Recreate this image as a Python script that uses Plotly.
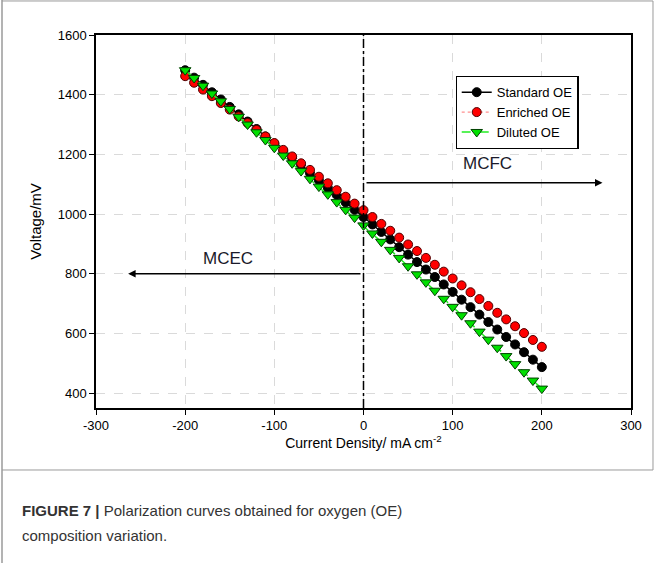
import plotly.graph_objects as go

current = [-200, -190, -180, -170, -160, -150, -140, -130, -120, -110, -100,
           -90, -80, -70, -60, -50, -40, -30, -20, -10, 0,
           10, 20, 30, 40, 50, 60, 70, 80, 90, 100,
           110, 120, 130, 140, 150, 160, 170, 180, 190, 200]

standard_oe = [1482, 1457, 1433, 1408, 1384, 1359, 1334, 1310, 1285, 1260, 1236,
               1211, 1187, 1162, 1137, 1113, 1088, 1064, 1039, 1014, 990,
               965, 940, 915, 889, 864, 839, 814, 789, 764, 739,
               713, 688, 663, 638, 613, 588, 563, 537, 512, 487]

enriched_oe = [1462, 1440, 1417, 1395, 1372, 1350, 1327, 1305, 1282, 1260, 1238,
               1215, 1193, 1170, 1148, 1125, 1103, 1080, 1058, 1035, 1013,
               990, 967, 944, 921, 898, 876, 853, 830, 807, 784,
               761, 738, 715, 692, 669, 647, 624, 601, 578, 555]

diluted_oe = [1482, 1456, 1430, 1404, 1378, 1352, 1326, 1300, 1274, 1248, 1222,
              1196, 1170, 1144, 1118, 1092, 1066, 1040, 1014, 988, 962,
              935, 907, 880, 853, 825, 798, 771, 743, 716, 689,
              661, 634, 606, 579, 552, 524, 497, 470, 442, 415]

x_ticks = [-300, -200, -100, 0, 100, 200, 300]
x_tick_labels = ["-300", "-200", "-100", "0", "100", "200", "300"]
y_ticks = [400, 600, 800, 1000, 1200, 1400, 1600]
y_tick_labels = ["400", "600", "800", "1000", "1200", "1400", "1600"]

fig = go.Figure()
fig.add_trace(go.Scatter(
    x=current, y=standard_oe, name="Standard OE", mode="lines+markers",
    line=dict(color="black", width=1.5),
    marker=dict(symbol="circle", size=9, color="black", line=dict(color="black", width=1))))
fig.add_trace(go.Scatter(
    x=current, y=enriched_oe, name="Enriched OE", mode="lines+markers",
    line=dict(color="#ff9090", width=1.2, dash="dot"),
    marker=dict(symbol="circle", size=9, color="#ff0000", line=dict(color="#500000", width=1))))
fig.add_trace(go.Scatter(
    x=current, y=diluted_oe, name="Diluted OE", mode="lines+markers",
    line=dict(color="#22ee22", width=1.5, dash="dash"),
    marker=dict(symbol="triangle-down", size=10, color="#00e000", line=dict(color="#004000", width=1))))

# vertical dash-dot line at zero
fig.add_shape(type="line", xref="x", yref="y", x0=0, x1=0, y0=350, y1=1600,
              line=dict(color="black", width=1.5, dash="dashdot"))

# arrows
fig.add_annotation(x=268, y=1105, ax=0, ay=1105, xref="x", yref="y", axref="x", ayref="y",
                   showarrow=True, arrowhead=2, arrowsize=1, arrowwidth=1.5, arrowcolor="black", text=" ")
fig.add_annotation(x=-264, y=800, ax=0, ay=800, xref="x", yref="y", axref="x", ayref="y",
                   showarrow=True, arrowhead=2, arrowsize=1, arrowwidth=1.5, arrowcolor="black", text=" ")
fig.add_annotation(x=139, y=1171, xref="x", yref="y", text="MCFC", showarrow=False,
                   font=dict(family="Liberation Sans", size=17, color="#1a1a2a"))
fig.add_annotation(x=-152, y=852, xref="x", yref="y", text="MCEC", showarrow=False,
                   font=dict(family="Liberation Sans", size=17, color="#1a1a2a"))

# caption
fig.add_annotation(x=-0.142, y=-0.276, xref="paper", yref="paper", xanchor="left", yanchor="middle",
                   text="<b>FIGURE 7 |</b> Polarization curves obtained for oxygen (OE)",
                   showarrow=False, align="left",
                   font=dict(family="Liberation Sans", size=15, color="#333333"))
fig.add_annotation(x=-0.142, y=-0.343, xref="paper", yref="paper", xanchor="left", yanchor="middle",
                   text="composition variation.", showarrow=False, align="left",
                   font=dict(family="Liberation Sans", size=15, color="#333333"))

# frame
frame_col = "#9a9a9a"
fig.add_shape(type="line", xref="paper", yref="paper", x0=-0.1757, x1=-0.1757, y0=1.094, y1=-0.4155,
              line=dict(color=frame_col, width=1.5))
fig.add_shape(type="line", xref="paper", yref="paper", x0=-0.1757, x1=1.0411, y0=1.0912, y1=1.0912,
              line=dict(color=frame_col, width=1))
fig.add_shape(type="line", xref="paper", yref="paper", x0=1.0411, x1=1.0411, y0=1.0912, y1=-0.1662,
              line=dict(color=frame_col, width=1))
fig.add_shape(type="line", xref="paper", yref="paper", x0=-0.1757, x1=1.0411, y0=-0.1662, y1=-0.1662,
              line=dict(color=frame_col, width=1))

axis_common = dict(showline=True, linecolor="black", linewidth=1.5, mirror=True,
                   ticks="outside", ticklen=5, tickcolor="black", tickwidth=1.2,
                   showgrid=True, gridcolor="#dadada", griddash="dash", gridwidth=1,
                   zeroline=False, tickfont=dict(family="Liberation Sans", size=13, color="black"))

fig.update_layout(
    width=655, height=563,
    margin=dict(l=96, r=24, t=35, b=155),
    paper_bgcolor="white", plot_bgcolor="white",
    font=dict(family="Liberation Sans", color="black"),
    xaxis=dict(range=[-300, 300], tickvals=x_ticks, ticktext=x_tick_labels,
               title=dict(text="Current Density/ mA cm<sup>-2</sup>", standoff=4,
                          font=dict(family="Liberation Sans", size=14)),
               **axis_common),
    yaxis=dict(range=[350, 1600], tickvals=y_ticks, ticktext=y_tick_labels,
               title=dict(text="Voltage/mV", standoff=12,
                          font=dict(family="Liberation Sans", size=15)),
               **axis_common),
    legend=dict(x=0.672, y=0.89, xanchor="left", yanchor="top",
                bordercolor="black", borderwidth=1.2, bgcolor="white",
                font=dict(family="Liberation Sans", size=13), tracegroupgap=0),
    showlegend=True,
)

fig.write_html("out.html")
